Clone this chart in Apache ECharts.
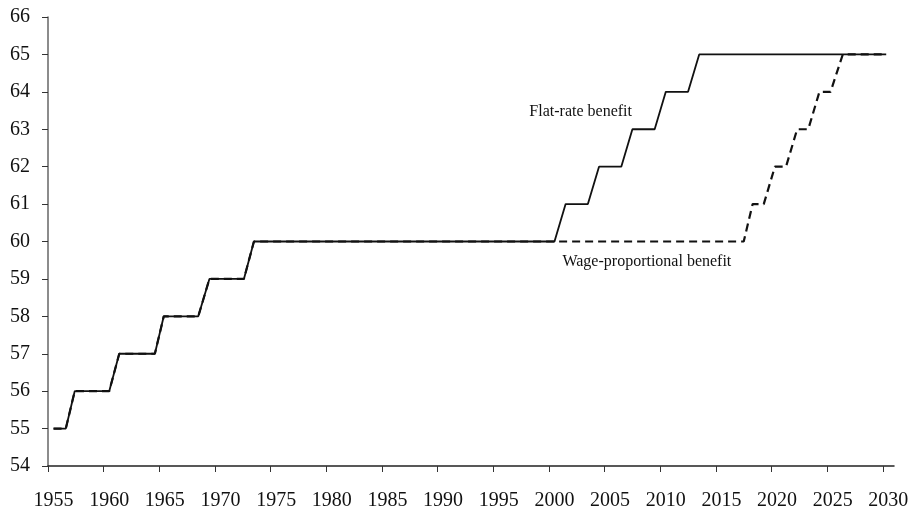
<!DOCTYPE html>
<html>
<head>
<meta charset="utf-8">
<script src="https://cdn.jsdelivr.net/npm/echarts@6/dist/echarts.min.js"></script>
<style>html,body{margin:0;padding:0;background:#fff}#c{width:912px;height:507px}</style>
</head>
<body>
<div id="c"></div>
<script>
const xTickValues = [1955,1960,1965,1970,1975,1980,1985,1990,1995,2000,2005,2010,2015,2020,2025,2030];
const yTickValues = [54,55,56,57,58,59,60,61,62,63,64,65,66];

const flatYears  = [1955.5,1956.6,1957.4,1960.5,1961.4,1964.6,1965.4,1968.5,1969.5,1972.6,1973.5,2000.5,2001.5,2003.5,2004.5,2006.5,2007.5,2009.5,2010.5,2012.5,2013.5,2030.3];
const flatValues = [55,55,56,56,57,57,58,58,59,59,60,60,61,61,62,62,63,63,64,64,65,65];

const wageYears  = [1955.5,1956.6,1957.4,1960.5,1961.4,1964.6,1965.4,1968.5,1969.5,1972.6,1973.5,2017.5,2018.3,2019.3,2020.3,2021.3,2022.3,2023.3,2024.3,2025.3,2026.4,2030.3];
const wageValues = [55,55,56,56,57,57,58,58,59,59,60,60,61,61,62,62,63,63,64,64,65,65];

const labelFlat = {text:'Flat-rate benefit', year:2002.85, value:63.47};
const labelWage = {text:'Wage-proportional benefit', year:2008.8, value:59.45};

const zip = (xs, ys) => xs.map((x,i)=>[x, ys[i]]);
const font = 'Liberation Serif';

const chart = echarts.init(document.getElementById('c'), null, {renderer:'canvas'});
chart.setOption({
  animation:false,
  backgroundColor:'#fff',
  grid:{left:48,right:18,top:17,bottom:41,outerBoundsMode:'none',containLabel:false},
  xAxis:{
    type:'value', min:1955, max:2031,
    axisLine:{show:true, lineStyle:{color:'#222', width:1.5}},
    axisTick:{show:true, length:6, customValues:xTickValues, lineStyle:{color:'#333', width:1}},
    axisLabel:{customValues:xTickValues, margin:25, padding:[0,0,0,11], fontFamily:font, fontSize:20, color:'#111', formatter:v=>String(v)},
    splitLine:{show:false}
  },
  yAxis:{
    type:'value', min:54, max:66, interval:1,
    axisLine:{show:true, lineStyle:{color:'#666', width:1.5}},
    axisTick:{show:true, length:6, lineStyle:{color:'#333', width:1}},
    axisLabel:{margin:18, fontFamily:font, fontSize:20, color:'#111', formatter:v=>yTickValues.includes(v)?String(v):''},
    splitLine:{show:false}
  },
  series:[
    {
      name:'Wage-proportional benefit', type:'line', data:zip(wageYears, wageValues),
      showSymbol:false, clip:false,
      lineStyle:{color:'#111', width:2.2, type:[8,5]},
      markPoint:{symbol:'circle', symbolSize:0, data:[{coord:[labelWage.year,labelWage.value], value:labelWage.text}],
        label:{show:true, position:'inside', formatter:labelWage.text, fontFamily:font, fontSize:16, color:'#111'}}
    },
    {
      name:'Flat-rate benefit', type:'line', data:zip(flatYears, flatValues),
      showSymbol:false, clip:false,
      lineStyle:{color:'#111', width:1.8},
      markPoint:{symbol:'circle', symbolSize:0, data:[{coord:[labelFlat.year,labelFlat.value], value:labelFlat.text}],
        label:{show:true, position:'inside', formatter:labelFlat.text, fontFamily:font, fontSize:16, color:'#111'}}
    }
  ]
});
</script>
</body>
</html>
